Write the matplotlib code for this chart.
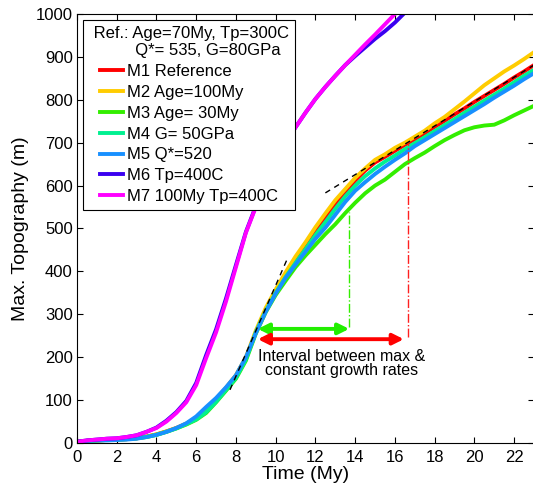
###
# Maximum topography growth through time for models M1-M7.
###

import matplotlib
matplotlib.use('Agg')
import matplotlib.pyplot as plt
import numpy as np


# Time grids (My).
time_main = np.arange(0.0, 23.01, 0.5)
time_hot  = np.arange(0.0, 16.51, 0.5)

# Max. topography (m) for the models sharing the 0-23 My run.
topo_m1 = [3, 5, 6, 7, 8, 9, 11, 15, 20, 27, 35, 45, 58, 80, 102, 128, 157, 198, 258, 310,
           352, 390, 425, 458, 492, 523, 556, 585, 612, 635, 654, 667, 681, 695, 708, 722,
           737, 751, 766, 780, 795, 809, 823, 837, 852, 866, 881]
topo_m2 = [3, 5, 6, 7, 8, 9, 11, 15, 20, 27, 35, 45, 58, 80, 102, 129, 158, 200, 262, 315,
           358, 398, 435, 468, 503, 535, 566, 592, 618, 640, 660, 673, 688, 700, 714, 728,
           745, 760, 778, 796, 815, 834, 850, 866, 880, 895, 911]
topo_m3 = [3, 5, 6, 7, 8, 9, 11, 14, 19, 26, 34, 43, 54, 70, 95, 122, 150, 192, 255, 305,
           345, 378, 410, 437, 462, 487, 510, 536, 560, 582, 600, 614, 632, 650, 664, 677,
           692, 706, 718, 729, 736, 740, 742, 752, 764, 775, 786]
topo_m4 = [3, 5, 6, 7, 8, 9, 11, 14, 19, 26, 34, 44, 55, 72, 96, 124, 152, 195, 258, 308,
           350, 387, 420, 452, 485, 515, 546, 575, 600, 622, 640, 656, 670, 685, 699, 713,
           727, 741, 755, 770, 784, 798, 812, 826, 841, 856, 870]
topo_m5 = [3, 5, 6, 6, 7, 8, 10, 14, 19, 26, 35, 46, 62, 84, 105, 130, 158, 200, 256, 306,
           348, 385, 416, 446, 476, 502, 532, 562, 588, 608, 627, 644, 660, 675, 692, 706,
           720, 734, 748, 762, 776, 790, 805, 819, 833, 848, 862]

# Hot mantle runs (Tp=400C) grow much faster.
topo_m6 = [3, 6, 8, 10, 11, 14, 18, 26, 36, 52, 72, 98, 140, 205, 265, 337, 415, 492, 552,
           609, 657, 700, 736, 770, 802, 830, 856, 881, 902, 922, 942, 960, 980, 1003]
topo_m7 = [3, 6, 8, 10, 11, 14, 18, 26, 35, 50, 70, 95, 135, 198, 258, 330, 410, 490, 550,
           608, 657, 700, 736, 770, 802, 830, 856, 881, 905, 929, 952, 976, 1000, 1024]

labels = ['M1 Reference', 'M2 Age=100My', 'M3 Age= 30My', 'M4 G= 50GPa',
          'M5 Q*=520', 'M6 Tp=400C', 'M7 100My Tp=400C']
colors = ['#ff0000', '#ffcc00', '#33ee00', '#00f090', '#1890ff', '#3a00f0', '#ff00ff']

# Tangent lines for max and constant growth rates.
tangent_max   = ([7.7, 10.6], [124, 431])
tangent_const = ([12.5, 23.0], [583, 881])

# Interval markers: start time, end time, level.
interval_m3 = (9.1, 13.7, 266)
interval_m1 = (9.1, 16.45, 242)
mark_m3 = (13.7, 270, 538)
mark_m1 = (16.67, 247, 700)


def main() -> int:
# {
    plt.rcParams['font.family'] = ['Liberation Sans', 'DejaVu Sans']
    plt.rcParams['font.size'] = 12

    fig = plt.figure(figsize = (5.33, 4.86), dpi = 100)
    ax = fig.add_axes([77 / 533, 43 / 486, 457 / 533, 429 / 486])

    # ================== curves. ==========================================.
    series = [(time_main, topo_m1), (time_main, topo_m2), (time_main, topo_m3),
              (time_main, topo_m4), (time_main, topo_m5), (time_hot, topo_m6),
              (time_hot, topo_m7)]
    for (t, y), lab, col in zip(series, labels, colors):
        ax.plot(t, y, color = col, lw = 2.8, label = lab, solid_joinstyle = 'round')

    # ================== growth rate guides. ==============================.
    ax.plot(*tangent_max, color = 'k', lw = 1.0, dashes = (4, 3.5))
    ax.plot(*tangent_const, color = 'k', lw = 1.0, dashes = (4, 3.5))

    ax.plot([mark_m3[0]] * 2, mark_m3[1:], color = '#33ee00', lw = 1.0, ls = '-.')
    ax.plot([mark_m1[0]] * 2, mark_m1[1:], color = '#ff2020', lw = 1.0, ls = '-.')

    for (x0, x1, y), col in [(interval_m3, '#22ee00'), (interval_m1, '#ff0000')]:
        ax.annotate('', xy = (x1, y), xytext = (x0, y),
                    arrowprops = dict(arrowstyle = '<|-|>', color = col, lw = 2.8,
                                      mutation_scale = 16, shrinkA = 0, shrinkB = 0))

    ax.text(13.3, 201, 'Interval between max &', ha = 'center', va = 'center', fontsize = 11.5)
    ax.text(13.3, 168, 'constant growth rates', ha = 'center', va = 'center', fontsize = 11.5)

    # ================== axes. ============================================.
    ax.set_xlim(0, 23)
    ax.set_ylim(0, 1000)
    ax.set_xticks(np.arange(0, 23, 2))
    ax.set_yticks(np.arange(0, 1001, 100))
    ax.tick_params(direction = 'in', length = 4, width = 0.8, top = True, right = True,
                   labelsize = 12)
    ax.tick_params(axis = 'x', pad = 5)
    ax.tick_params(axis = 'y', pad = 3)
    ax.set_xlabel('Time (My)', fontsize = 14, labelpad = 1)
    ax.set_ylabel('Max. Topography (m)', fontsize = 14, labelpad = 5)

    leg = ax.legend(loc = 'upper left', bbox_to_anchor = (6 / 457, 1 - 6 / 429),
                    borderaxespad = 0, fancybox = False, framealpha = 1,
                    edgecolor = 'k', handlelength = 1.4, handletextpad = 0.25,
                    labelspacing = 0.35, borderpad = 0.35, fontsize = 12,
                    title = ' Ref.: Age=70My, Tp=300C\n          Q*= 535, G=80GPa',
                    title_fontsize = 12)
    leg.get_frame().set_linewidth(0.8)
    leg.get_title().set_multialignment('left')

    fig.savefig('out.png', dpi = 100)

    return 0
# }


if '__main__' == __name__:
# {
    main()
# }
